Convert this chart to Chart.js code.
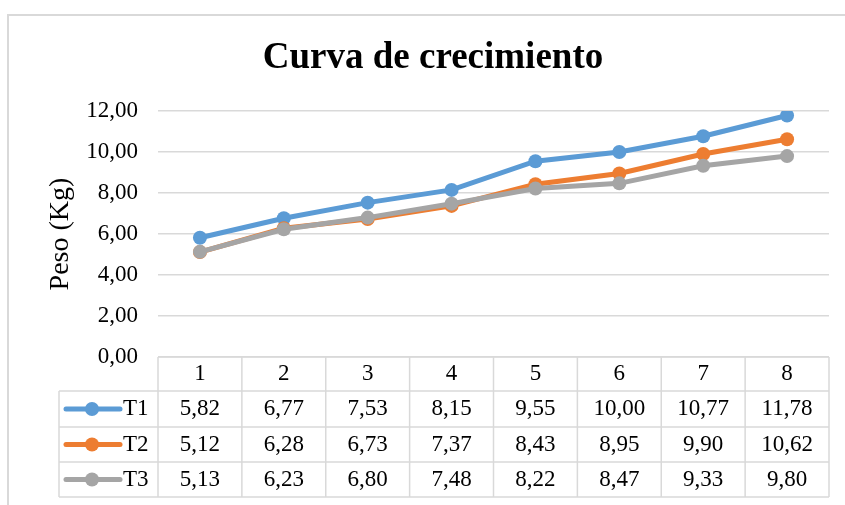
<!DOCTYPE html>
<html>
<head>
<meta charset="utf-8">
<script src="https://cdn.jsdelivr.net/npm/chart.js@4.4.0/dist/chart.umd.min.js"></script>
<style>
  html, body { margin: 0; padding: 0; background: #fff; }
  #wrap { width: 845px; height: 505px; position: relative; }
</style>
</head>
<body>
<div id="wrap"><canvas id="chart" width="845" height="505"></canvas></div>
<script>
const categories = ['1', '2', '3', '4', '5', '6', '7', '8'];
const seriesNames = ['T1', 'T2', 'T3'];
const t1Values = [5.82, 6.77, 7.53, 8.15, 9.55, 10.00, 10.77, 11.78];
const t2Values = [5.12, 6.28, 6.73, 7.37, 8.43, 8.95, 9.90, 10.62];
const t3Values = [5.13, 6.23, 6.80, 7.48, 8.22, 8.47, 9.33, 9.80];
const yTicks = [0, 2, 4, 6, 8, 10, 12];
const chartTitle = 'Curva de crecimiento';

const colors = ['#5B9BD5', '#ED7D31', '#A5A5A5'];
const serif = "'Liberation Serif', 'Times New Roman', serif";
const gridColor = '#d9d9d9';

const fmt = v => v.toFixed(2).replace('.', ',');

// table geometry below the plot (row boundaries, px)
const tableRows = [357, 391, 427, 462, 497];
const legendLeft = 59;

const dataTablePlugin = {
  id: 'dataTable',
  beforeDraw(chart) {
    const ctx = chart.ctx;
    ctx.save();
    ctx.fillStyle = '#fff';
    ctx.fillRect(0, 0, chart.width, chart.height);
    ctx.strokeStyle = gridColor;
    ctx.lineWidth = 2;
    ctx.strokeRect(8, 15, chart.width + 20, chart.height + 20);
    // title
    ctx.fillStyle = '#000';
    ctx.font = 'bold 37px ' + serif;
    ctx.textAlign = 'center';
    ctx.textBaseline = 'middle';
    ctx.fillText(chartTitle, 433, 58);
    ctx.restore();
  },
  afterDraw(chart) {
    const ctx = chart.ctx;
    const x = chart.scales.x;
    const n = categories.length;
    const colW = (x.right - x.left) / n;
    ctx.save();
    ctx.strokeStyle = gridColor;
    ctx.lineWidth = 1.5;
    ctx.beginPath();
    // header top
    ctx.moveTo(x.left, tableRows[0]);
    ctx.lineTo(x.right, tableRows[0]);
    // row lines
    for (let r = 1; r < tableRows.length; r++) {
      ctx.moveTo(legendLeft, tableRows[r]);
      ctx.lineTo(x.right, tableRows[r]);
    }
    // column lines
    for (let i = 0; i <= n; i++) {
      const px = x.left + i * colW;
      ctx.moveTo(px, tableRows[0]);
      ctx.lineTo(px, tableRows[tableRows.length - 1]);
    }
    ctx.moveTo(legendLeft, tableRows[1]);
    ctx.lineTo(legendLeft, tableRows[tableRows.length - 1]);
    ctx.stroke();

    ctx.fillStyle = '#000';
    ctx.font = '23px ' + serif;
    ctx.textAlign = 'center';
    ctx.textBaseline = 'middle';
    categories.forEach((c, i) => {
      ctx.fillText(c, x.getPixelForValue(i), (tableRows[0] + tableRows[1]) / 2);
    });
    chart.data.datasets.forEach((ds, r) => {
      const cy = (tableRows[r + 1] + tableRows[r + 2]) / 2;
      ds.data.forEach((v, i) => {
        ctx.fillStyle = '#000';
        ctx.textAlign = 'center';
        ctx.fillText(fmt(v), x.getPixelForValue(i), cy);
      });
      // legend key
      ctx.strokeStyle = ds.borderColor;
      ctx.lineWidth = 5;
      ctx.lineCap = 'round';
      ctx.beginPath();
      ctx.moveTo(legendLeft + 7, cy);
      ctx.lineTo(legendLeft + 61, cy);
      ctx.stroke();
      ctx.fillStyle = ds.borderColor;
      ctx.beginPath();
      ctx.arc(legendLeft + 33, cy, 7, 0, Math.PI * 2);
      ctx.fill();
      ctx.fillStyle = '#000';
      ctx.textAlign = 'left';
      ctx.fillText(ds.label, legendLeft + 64, cy);
    });
    ctx.restore();
  }
};

const valueSets = [t1Values, t2Values, t3Values];
const datasets = seriesNames.map((name, i) => ({
  label: name,
  data: valueSets[i],
  borderColor: colors[i],
  backgroundColor: colors[i],
  borderWidth: 5,
  pointRadius: 7,
  pointBorderWidth: 0,
  pointBackgroundColor: colors[i],
  tension: 0,
  order: seriesNames.length - i
}));

new Chart(document.getElementById('chart'), {
  type: 'line',
  data: { labels: categories, datasets },
  plugins: [dataTablePlugin],
  options: {
    responsive: false,
    animation: false,
    layout: { padding: { left: 0, right: 16, top: 111, bottom: 148 } },
    plugins: {
      legend: { display: false },
      tooltip: { enabled: false },
      title: { display: false }
    },
    scales: {
      x: {
        display: false,
        offset: true
      },
      y: {
        min: 0,
        max: 12,
        afterFit(scale) { scale.width = 158; },
        afterBuildTicks(scale) { scale.ticks = yTicks.map(v => ({ value: v })); },
        border: { display: false },
        grid: { color: gridColor, lineWidth: 1.5, drawTicks: false },
        ticks: {
          color: '#000',
          padding: 20,
          font: { family: serif, size: 23 },
          callback: v => fmt(v)
        },
        title: {
          display: true,
          text: 'Peso (Kg)',
          color: '#000',
          font: { family: serif, size: 28 },
          padding: { top: 44 }
        }
      }
    }
  }
});
</script>
</body>
</html>
